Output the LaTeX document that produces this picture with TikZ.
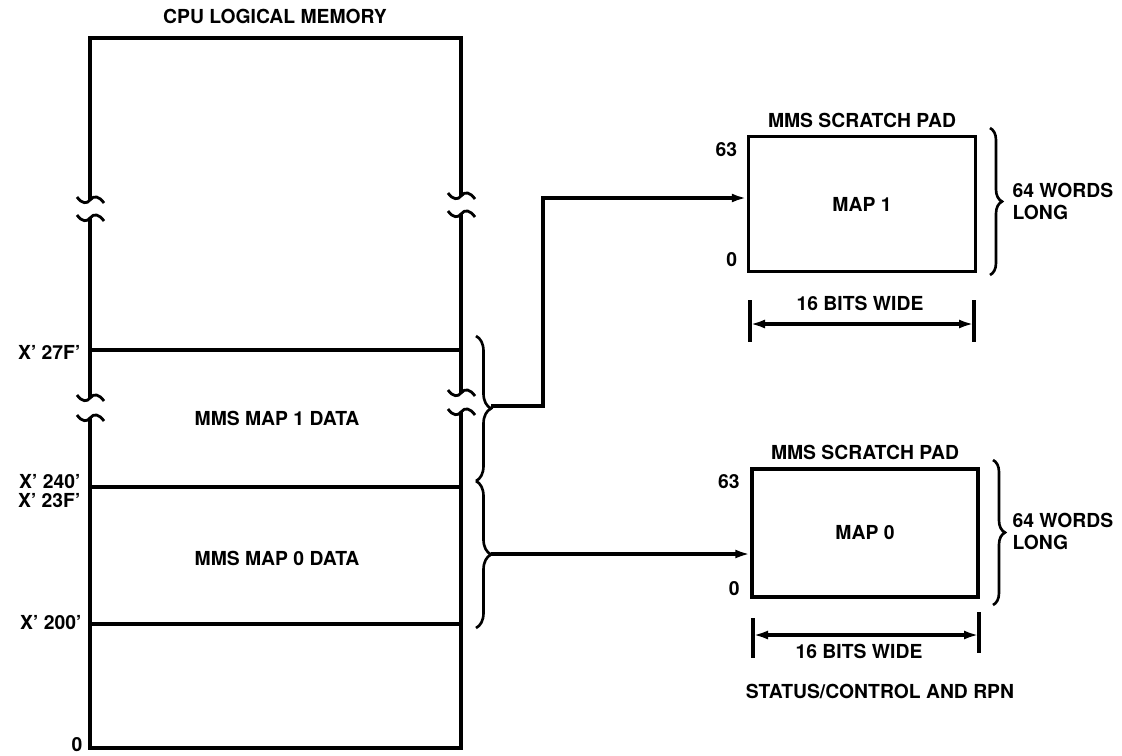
\documentclass[tikz,border=0pt]{standalone}
\usepackage{fontspec}
\setmainfont{TeX Gyre Heros}
\usetikzlibrary{arrows.meta, positioning, decorations.pathreplacing, calc}
\tikzset{
  every picture/.style={line width=1.8pt},
  lbl/.style={font=\bfseries\fontsize{11}{12.5}\selectfont, inner sep=0pt, align=left},
  pad/.style={draw, line width=2pt, lbl},
  arr/.style={-{Latex[length=3mm, width=1.8mm]}},
  dim/.style={{Latex[length=3mm, width=1.8mm]}-{Latex[length=3mm, width=1.8mm]}},
  brc/.style={decorate, decoration={brace, amplitude=#1}, line width=1.5pt},
  brc/.default=0.3cm,
}
% break mark on a vertical line
\newcommand\brk[2]{\draw[line width=1.6pt] (#1-13,#2-3) .. controls (#1-8,#2+4) and (#1-3,#2+4) .. (#1,#2) .. controls (#1+4,#2-5) and (#1+9,#2-4) .. (#1+14,#2+3);}

\begin{document}
\begin{tikzpicture}[x=0.02cm, y=-0.02cm]
  \useasboundingbox (0,0) rectangle (1122,755);
  % cpu logical memory
  \node[lbl] (title) at (275,16) {CPU LOGICAL MEMORY};
  \draw (90,200) -- (90,38) -- (461,38) -- (461,196);
  \draw (90,218) -- (90,398);
  \draw (461,214) -- (461,393);
  \draw (90,418) -- (90,748) -- (461,748) -- (461,412);
  \brk{90}{200} \brk{90}{218} \brk{461}{196} \brk{461}{214}
  \brk{90}{398} \brk{90}{418} \brk{461}{393} \brk{461}{412}
  \draw (90,350) -- (461,350);
  \draw (90,487) -- (461,487);
  \draw (90,624) -- (461,624);
  \node[lbl, anchor=east] (a27f) at (82,352) {X' 27F'};
  \node[lbl, anchor=east] (a240) at (82,482) {X' 240'};
  \node[lbl, anchor=east] (a23f) at (82,501) {X' 23F'};
  \node[lbl, anchor=east] (a200) at (83,623) {X' 200'};
  \node[lbl, anchor=east] (a0) at (84,745) {0};
  \node[lbl] (map1data) at (277,418) {MMS MAP 1 DATA};
  \node[lbl] (map0data) at (277,558) {MMS MAP 0 DATA};
  \draw[brc] (476,336) -- (476,481);
  \draw[brc] (476,481) -- (476,628);
  \coordinate (t1) at (491,406);
  \coordinate (k1) at (543,406);
  \coordinate (t0) at (491,554);

  % scratch pads
  \node[pad, minimum width=4.54cm, minimum height=2.7cm] (pad1) at (862,204) {MAP 1};
  \node[pad, minimum width=4.52cm, minimum height=2.56cm] (pad0) at (865,533) {MAP 0};
  \node[lbl, above=0.1cm of pad1] (sp1) {MMS SCRATCH PAD};
  \node[lbl, above=0.12cm of pad0] (sp0) {MMS SCRATCH PAD};
  \node[lbl, anchor=north east] (top1) at ([xshift=-0.16cm, yshift=-0.12cm]pad1.north west) {63};
  \node[lbl, anchor=south east] (bot1) at ([xshift=-0.16cm, yshift=0.1cm]pad1.south west) {0};
  \node[lbl, anchor=north east] (top0) at ([xshift=-0.18cm, yshift=-0.12cm]pad0.north west) {63};
  \node[lbl, anchor=south east] (bot0) at ([xshift=-0.18cm, yshift=0.04cm]pad0.south west) {0};
  \draw[brc=0.24cm] (990,128) -- (990,275);
  \draw[brc=0.24cm] (993,460) -- (993,605);
  \node[lbl, anchor=west] (len1) at (1011,201) {64 WORDS\\LONG};
  \node[lbl, anchor=west] (len0) at (1011,531) {64 WORDS\\LONG};

  % widths
  \coordinate (w1l) at (750,324);
  \coordinate (w1r) at (974,324);
  \draw (750,300) -- (750,342);
  \draw (974,300) -- (974,342);
  \draw[dim] (w1l) -- (w1r);
  \node[lbl] (bits1) at (860,303) {16 BITS WIDE};
  \coordinate (w0l) at (753,635);
  \coordinate (w0r) at (979,635);
  \draw (753,618) -- (753,658);
  \draw (979,612) -- (979,653);
  \draw[dim] (w0l) -- (w0r);
  \node[lbl] (bits0) at (859,651) {16 BITS WIDE};
  \node[lbl] (status) at (880,691) {STATUS/CONTROL AND RPN};

  % connectors
  \draw[arr] (t1) -- (k1) |- ([yshift=0.12cm]pad1.west);
  \draw[arr] (t0) -- (t0 -| pad0.west);
\end{tikzpicture}
\end{document}
